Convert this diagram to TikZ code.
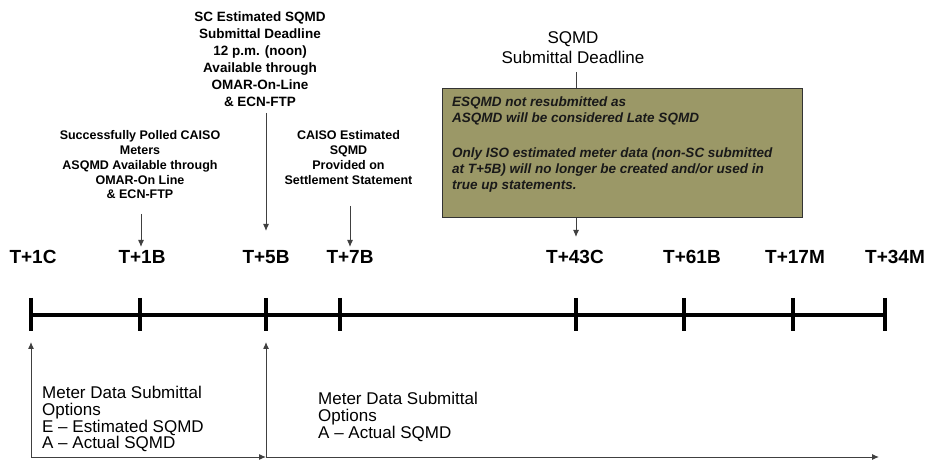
\documentclass[tikz,border=0pt]{standalone}
\usepackage{fontspec}
\setmainfont{Liberation Sans}
\usetikzlibrary{arrows.meta}
\definecolor{olivebox}{RGB}{155,152,103}
\begin{document}
\begin{tikzpicture}[x=1pt,y=-1pt,
  every node/.style={inner sep=0pt, text=black},
  tlabel/.style={font=\fontsize{19}{22}\selectfont\bfseries},
  topnote/.style={font=\fontsize{12.5}{14.8}\selectfont\bfseries, align=center, anchor=north},
  scnote/.style={font=\fontsize{13.5}{17}\selectfont\bfseries, align=center, anchor=north},
  deadline/.style={font=\fontsize{17}{20}\selectfont, align=center, anchor=north},
  boxtext/.style={font=\fontsize{13.5}{16}\selectfont\bfseries\itshape, align=left, anchor=north west, text=black!90},
  btext/.style={font=\fontsize{17}{16.8}\selectfont, align=left, anchor=north west},
  arr/.style={line width=1pt, draw=black!75, -{Latex[length=7pt,width=6pt]}},
  conn/.style={line width=1pt, draw=black!75},
  axis/.style={line width=3.3pt, draw=black},
  tickmark/.style={line width=4pt, draw=black},
]
\useasboundingbox (0,0) rectangle (927,462);

% timeline
\foreach \n/\x in {1/31,2/140,3/266,4/340,5/576,6/684,7/793,8/885}
  \coordinate (k\n) at (\x,315);
\draw[axis] (k1) -- (k8);
\foreach \n in {1,...,8}
  \draw[tickmark] ([yshift=17pt]k\n) -- ([yshift=-16pt]k\n);

% labels
\node[tlabel] (l1) at (33,257) {T+1C};
\node[tlabel] (l2) at (142,257) {T+1B};
\node[tlabel] (l3) at (266,257) {T+5B};
\node[tlabel] (l4) at (350,257) {T+7B};
\node[tlabel] (l5) at (575,257) {T+43C};
\node[tlabel] (l6) at (692,257) {T+61B};
\node[tlabel] (l7) at (795,257) {T+17M};
\node[tlabel] (l8) at (895,257) {T+34M};

% top notes
\node[scnote] (sc) at (260,12) {SC Estimated SQMD\\Submittal Deadline\\12 p.m. (noon)\hspace*{34pt}\\Available through\\OMAR-On-Line\\\& ECN-FTP};
\node[topnote] (polled) at (140,130.5) {Successfully Polled CAISO\\Meters\\ASQMD Available through\\OMAR-On Line\\\& ECN-FTP};
\node[topnote] (caiso) at (348.5,130.5) {CAISO Estimated\\SQMD\\Provided on\\Settlement Statement};
\node[deadline] (dl) at (573,31) {SQMD\\Submittal Deadline};

% box
\node[draw=black!80, line width=1pt, fill=olivebox, minimum width=360pt, minimum height=129pt, anchor=north west] (box) at (442,88) {};
\node[boxtext] (boxt) at (452,97) {ESQMD not resubmitted as\\ASQMD will be considered Late SQMD\\[19pt]Only ISO estimated meter data (non-SC submitted\\at T+5B) will no longer be created and/or used in\\true up statements.};

% top arrows
\coordinate (p1) at (141,214);
\coordinate (p2) at (141,247);
\draw[arr] (p1) -- (p2);
\coordinate (s1) at (266,113);
\coordinate (s2) at (266,231);
\draw[arr] (s1) -- (s2);
\coordinate (c1) at (350,206);
\coordinate (c2) at (350,247);
\draw[arr] (c1) -- (c2);
\coordinate (d1) at (576,72);
\draw[conn] (d1) -- (d1 |- box.north);
\coordinate (e2) at (576,237);
\draw[arr] (box.south -| e2) -- (e2);

% bottom arrows
\coordinate (b1) at (31,457);
\coordinate (b2) at (266,457);
\coordinate (b3) at (879,457);
\draw[arr] (b1) -- ([yshift=-27pt]k1);
\draw[arr] (b1) -- (b2);
\draw[arr] (b2) -- ([yshift=-27pt]k3);
\draw[arr] (b2) -- (b3);

% bottom notes
\node[btext] (opt1) at (42,386) {Meter Data Submittal\\Options\\E – Estimated SQMD\\A – Actual SQMD};
\node[btext] (opt2) at (318,392) {Meter Data Submittal\\Options\\A – Actual SQMD};
\end{tikzpicture}
\end{document}
